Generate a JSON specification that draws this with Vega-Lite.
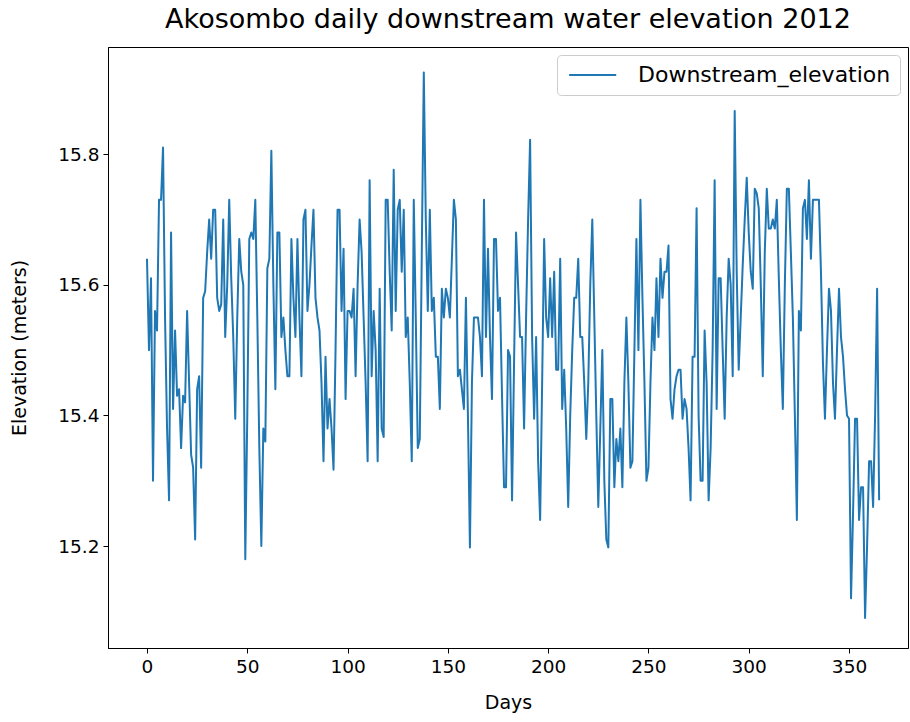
{
  "$schema": "https://vega.github.io/schema/vega-lite/v6.json",
  "width": 800,
  "height": 601,
  "autosize": {"type": "none"},
  "padding": {"left": 108, "top": 47, "right": 2, "bottom": 74},
  "title": {"text": "Akosombo daily downstream water elevation 2012", "fontSize": 27, "font": "DejaVu Sans", "fontWeight": "normal", "color": "black", "offset": 13},
  "data": {"values": [
    {"day":0,"elevation":15.64},{"day":1,"elevation":15.50},{"day":2,"elevation":15.61},{"day":3,"elevation":15.30},{"day":4,"elevation":15.56},{"day":5,"elevation":15.53},{"day":6,"elevation":15.73},{"day":7,"elevation":15.73},{"day":8,"elevation":15.81},{"day":9,"elevation":15.55},
    {"day":10,"elevation":15.38},{"day":11,"elevation":15.27},{"day":12,"elevation":15.68},{"day":13,"elevation":15.41},{"day":14,"elevation":15.53},{"day":15,"elevation":15.43},{"day":16,"elevation":15.44},{"day":17,"elevation":15.35},{"day":18,"elevation":15.43},{"day":19,"elevation":15.42},
    {"day":20,"elevation":15.56},{"day":21,"elevation":15.45},{"day":22,"elevation":15.34},{"day":23,"elevation":15.32},{"day":24,"elevation":15.21},{"day":25,"elevation":15.44},{"day":26,"elevation":15.46},{"day":27,"elevation":15.32},{"day":28,"elevation":15.58},{"day":29,"elevation":15.59},
    {"day":30,"elevation":15.65},{"day":31,"elevation":15.70},{"day":32,"elevation":15.64},{"day":33,"elevation":15.715},{"day":34,"elevation":15.715},{"day":35,"elevation":15.58},{"day":36,"elevation":15.56},{"day":37,"elevation":15.57},{"day":38,"elevation":15.70},{"day":39,"elevation":15.52},
    {"day":40,"elevation":15.60},{"day":41,"elevation":15.73},{"day":42,"elevation":15.61},{"day":43,"elevation":15.52},{"day":44,"elevation":15.395},{"day":45,"elevation":15.55},{"day":46,"elevation":15.67},{"day":47,"elevation":15.62},{"day":48,"elevation":15.60},{"day":49,"elevation":15.18},
    {"day":50,"elevation":15.40},{"day":51,"elevation":15.67},{"day":52,"elevation":15.68},{"day":53,"elevation":15.67},{"day":54,"elevation":15.73},{"day":55,"elevation":15.55},{"day":56,"elevation":15.35},{"day":57,"elevation":15.20},{"day":58,"elevation":15.38},{"day":59,"elevation":15.36},
    {"day":60,"elevation":15.625},{"day":61,"elevation":15.64},{"day":62,"elevation":15.805},{"day":63,"elevation":15.60},{"day":64,"elevation":15.44},{"day":65,"elevation":15.68},{"day":66,"elevation":15.68},{"day":67,"elevation":15.52},{"day":68,"elevation":15.55},{"day":69,"elevation":15.50},
    {"day":70,"elevation":15.46},{"day":71,"elevation":15.46},{"day":72,"elevation":15.67},{"day":73,"elevation":15.58},{"day":74,"elevation":15.52},{"day":75,"elevation":15.67},{"day":76,"elevation":15.55},{"day":77,"elevation":15.46},{"day":78,"elevation":15.70},{"day":79,"elevation":15.715},
    {"day":80,"elevation":15.56},{"day":81,"elevation":15.60},{"day":82,"elevation":15.66},{"day":83,"elevation":15.715},{"day":84,"elevation":15.58},{"day":85,"elevation":15.55},{"day":86,"elevation":15.53},{"day":87,"elevation":15.45},{"day":88,"elevation":15.33},{"day":89,"elevation":15.49},
    {"day":90,"elevation":15.38},{"day":91,"elevation":15.425},{"day":92,"elevation":15.38},{"day":93,"elevation":15.317},{"day":94,"elevation":15.50},{"day":95,"elevation":15.715},{"day":96,"elevation":15.715},{"day":97,"elevation":15.56},{"day":98,"elevation":15.655},{"day":99,"elevation":15.425},
    {"day":100,"elevation":15.56},{"day":101,"elevation":15.56},{"day":102,"elevation":15.55},{"day":103,"elevation":15.594},{"day":104,"elevation":15.46},{"day":105,"elevation":15.60},{"day":106,"elevation":15.70},{"day":107,"elevation":15.65},{"day":108,"elevation":15.55},{"day":109,"elevation":15.45},
    {"day":110,"elevation":15.33},{"day":111,"elevation":15.76},{"day":112,"elevation":15.46},{"day":113,"elevation":15.56},{"day":114,"elevation":15.50},{"day":115,"elevation":15.33},{"day":116,"elevation":15.594},{"day":117,"elevation":15.38},{"day":118,"elevation":15.367},{"day":119,"elevation":15.73},
    {"day":120,"elevation":15.73},{"day":121,"elevation":15.62},{"day":122,"elevation":15.53},{"day":123,"elevation":15.776},{"day":124,"elevation":15.56},{"day":125,"elevation":15.715},{"day":126,"elevation":15.73},{"day":127,"elevation":15.62},{"day":128,"elevation":15.715},{"day":129,"elevation":15.52},
    {"day":130,"elevation":15.55},{"day":131,"elevation":15.45},{"day":132,"elevation":15.33},{"day":133,"elevation":15.73},{"day":134,"elevation":15.55},{"day":135,"elevation":15.35},{"day":136,"elevation":15.364},{"day":137,"elevation":15.65},{"day":138,"elevation":15.925},{"day":139,"elevation":15.70},
    {"day":140,"elevation":15.56},{"day":141,"elevation":15.715},{"day":142,"elevation":15.56},{"day":143,"elevation":15.58},{"day":144,"elevation":15.49},{"day":145,"elevation":15.49},{"day":146,"elevation":15.41},{"day":147,"elevation":15.594},{"day":148,"elevation":15.55},{"day":149,"elevation":15.594},
    {"day":150,"elevation":15.58},{"day":151,"elevation":15.55},{"day":152,"elevation":15.64},{"day":153,"elevation":15.73},{"day":154,"elevation":15.70},{"day":155,"elevation":15.46},{"day":156,"elevation":15.47},{"day":157,"elevation":15.44},{"day":158,"elevation":15.41},{"day":159,"elevation":15.58},
    {"day":160,"elevation":15.40},{"day":161,"elevation":15.198},{"day":162,"elevation":15.45},{"day":163,"elevation":15.55},{"day":164,"elevation":15.55},{"day":165,"elevation":15.55},{"day":166,"elevation":15.52},{"day":167,"elevation":15.46},{"day":168,"elevation":15.73},{"day":169,"elevation":15.52},
    {"day":170,"elevation":15.655},{"day":171,"elevation":15.52},{"day":172,"elevation":15.425},{"day":173,"elevation":15.67},{"day":174,"elevation":15.67},{"day":175,"elevation":15.56},{"day":176,"elevation":15.58},{"day":177,"elevation":15.43},{"day":178,"elevation":15.29},{"day":179,"elevation":15.29},
    {"day":180,"elevation":15.50},{"day":181,"elevation":15.49},{"day":182,"elevation":15.27},{"day":183,"elevation":15.48},{"day":184,"elevation":15.68},{"day":185,"elevation":15.60},{"day":186,"elevation":15.52},{"day":187,"elevation":15.52},{"day":188,"elevation":15.38},{"day":189,"elevation":15.55},
    {"day":190,"elevation":15.70},{"day":191,"elevation":15.822},{"day":192,"elevation":15.52},{"day":193,"elevation":15.395},{"day":194,"elevation":15.52},{"day":195,"elevation":15.33},{"day":196,"elevation":15.24},{"day":197,"elevation":15.45},{"day":198,"elevation":15.67},{"day":199,"elevation":15.55},
    {"day":200,"elevation":15.52},{"day":201,"elevation":15.61},{"day":202,"elevation":15.52},{"day":203,"elevation":15.62},{"day":204,"elevation":15.47},{"day":205,"elevation":15.47},{"day":206,"elevation":15.64},{"day":207,"elevation":15.41},{"day":208,"elevation":15.47},{"day":209,"elevation":15.38},
    {"day":210,"elevation":15.26},{"day":211,"elevation":15.40},{"day":212,"elevation":15.50},{"day":213,"elevation":15.58},{"day":214,"elevation":15.58},{"day":215,"elevation":15.64},{"day":216,"elevation":15.52},{"day":217,"elevation":15.52},{"day":218,"elevation":15.45},{"day":219,"elevation":15.364},
    {"day":220,"elevation":15.45},{"day":221,"elevation":15.60},{"day":222,"elevation":15.70},{"day":223,"elevation":15.55},{"day":224,"elevation":15.40},{"day":225,"elevation":15.26},{"day":226,"elevation":15.38},{"day":227,"elevation":15.50},{"day":228,"elevation":15.30},{"day":229,"elevation":15.21},
    {"day":230,"elevation":15.198},{"day":231,"elevation":15.425},{"day":232,"elevation":15.425},{"day":233,"elevation":15.29},{"day":234,"elevation":15.364},{"day":235,"elevation":15.33},{"day":236,"elevation":15.38},{"day":237,"elevation":15.29},{"day":238,"elevation":15.45},{"day":239,"elevation":15.55},
    {"day":240,"elevation":15.45},{"day":241,"elevation":15.32},{"day":242,"elevation":15.33},{"day":243,"elevation":15.50},{"day":244,"elevation":15.67},{"day":245,"elevation":15.50},{"day":246,"elevation":15.73},{"day":247,"elevation":15.58},{"day":248,"elevation":15.45},{"day":249,"elevation":15.30},
    {"day":250,"elevation":15.32},{"day":251,"elevation":15.45},{"day":252,"elevation":15.55},{"day":253,"elevation":15.50},{"day":254,"elevation":15.61},{"day":255,"elevation":15.52},{"day":256,"elevation":15.64},{"day":257,"elevation":15.58},{"day":258,"elevation":15.62},{"day":259,"elevation":15.62},
    {"day":260,"elevation":15.66},{"day":261,"elevation":15.425},{"day":262,"elevation":15.395},{"day":263,"elevation":15.44},{"day":264,"elevation":15.46},{"day":265,"elevation":15.47},{"day":266,"elevation":15.47},{"day":267,"elevation":15.395},{"day":268,"elevation":15.425},{"day":269,"elevation":15.41},
    {"day":270,"elevation":15.35},{"day":271,"elevation":15.27},{"day":272,"elevation":15.49},{"day":273,"elevation":15.49},{"day":274,"elevation":15.717},{"day":275,"elevation":15.40},{"day":276,"elevation":15.30},{"day":277,"elevation":15.30},{"day":278,"elevation":15.53},{"day":279,"elevation":15.45},
    {"day":280,"elevation":15.27},{"day":281,"elevation":15.35},{"day":282,"elevation":15.50},{"day":283,"elevation":15.76},{"day":284,"elevation":15.41},{"day":285,"elevation":15.61},{"day":286,"elevation":15.61},{"day":287,"elevation":15.50},{"day":288,"elevation":15.395},{"day":289,"elevation":15.55},
    {"day":290,"elevation":15.64},{"day":291,"elevation":15.60},{"day":292,"elevation":15.46},{"day":293,"elevation":15.866},{"day":294,"elevation":15.62},{"day":295,"elevation":15.47},{"day":296,"elevation":15.55},{"day":297,"elevation":15.63},{"day":298,"elevation":15.70},{"day":299,"elevation":15.764},
    {"day":300,"elevation":15.68},{"day":301,"elevation":15.62},{"day":302,"elevation":15.594},{"day":303,"elevation":15.747},{"day":304,"elevation":15.74},{"day":305,"elevation":15.717},{"day":306,"elevation":15.60},{"day":307,"elevation":15.46},{"day":308,"elevation":15.65},{"day":309,"elevation":15.747},
    {"day":310,"elevation":15.686},{"day":311,"elevation":15.686},{"day":312,"elevation":15.70},{"day":313,"elevation":15.686},{"day":314,"elevation":15.73},{"day":315,"elevation":15.61},{"day":316,"elevation":15.50},{"day":317,"elevation":15.41},{"day":318,"elevation":15.60},{"day":319,"elevation":15.747},
    {"day":320,"elevation":15.747},{"day":321,"elevation":15.65},{"day":322,"elevation":15.55},{"day":323,"elevation":15.40},{"day":324,"elevation":15.24},{"day":325,"elevation":15.56},{"day":326,"elevation":15.53},{"day":327,"elevation":15.717},{"day":328,"elevation":15.73},{"day":329,"elevation":15.67},
    {"day":330,"elevation":15.76},{"day":331,"elevation":15.64},{"day":332,"elevation":15.73},{"day":333,"elevation":15.73},{"day":334,"elevation":15.73},{"day":335,"elevation":15.73},{"day":336,"elevation":15.62},{"day":337,"elevation":15.48},{"day":338,"elevation":15.395},{"day":339,"elevation":15.50},
    {"day":340,"elevation":15.594},{"day":341,"elevation":15.56},{"day":342,"elevation":15.45},{"day":343,"elevation":15.395},{"day":344,"elevation":15.50},{"day":345,"elevation":15.594},{"day":346,"elevation":15.52},{"day":347,"elevation":15.49},{"day":348,"elevation":15.44},{"day":349,"elevation":15.40},
    {"day":350,"elevation":15.395},{"day":351,"elevation":15.12},{"day":352,"elevation":15.25},{"day":353,"elevation":15.395},{"day":354,"elevation":15.395},{"day":355,"elevation":15.24},{"day":356,"elevation":15.29},{"day":357,"elevation":15.29},{"day":358,"elevation":15.09},{"day":359,"elevation":15.20},
    {"day":360,"elevation":15.33},{"day":361,"elevation":15.33},{"day":362,"elevation":15.26},{"day":363,"elevation":15.40},{"day":364,"elevation":15.594},{"day":365,"elevation":15.27}
  ]},
  "mark": {"type": "line", "strokeWidth": 2, "strokeJoin": "round", "clip": true},
  "encoding": {
    "x": {"field": "day", "type": "quantitative",
      "scale": {"domain": [-19.44, 379.4], "nice": false, "zero": false},
      "axis": {"title": "Days", "values": [0, 50, 100, 150, 200, 250, 300, 350], "titlePadding": 18}},
    "y": {"field": "elevation", "type": "quantitative",
      "scale": {"domain": [15.044, 15.964], "nice": false, "zero": false},
      "axis": {"title": "Elevation (meters)", "values": [15.2, 15.4, 15.6, 15.8], "format": ".1f", "titlePadding": 28}},
    "color": {"datum": "Downstream_elevation", "scale": {"range": ["#1f77b4"]},
      "legend": {"title": null, "orient": "top-right", "offset": 8, "symbolType": "M-1,0H5", "symbolSize": 246, "symbolStrokeWidth": 2, "symbolFillColor": "transparent",
        "labelFontSize": 22, "labelFont": "DejaVu Sans", "labelColor": "black", "labelLimit": 500, "padding": 9, "strokeColor": "#cccccc", "fillColor": "white", "cornerRadius": 4, "labelOffset": 50}}
  },
  "config": {
    "view": {"stroke": "black", "strokeWidth": 1},
    "axis": {"grid": false, "domainColor": "black", "tickColor": "black", "tickSize": 5, "labelFont": "DejaVu Sans", "labelFontSize": 18.5, "labelColor": "black", "labelPadding": 4, "titleFont": "DejaVu Sans", "titleFontSize": 19, "titleFontWeight": "normal", "titleColor": "black"}
  }
}
